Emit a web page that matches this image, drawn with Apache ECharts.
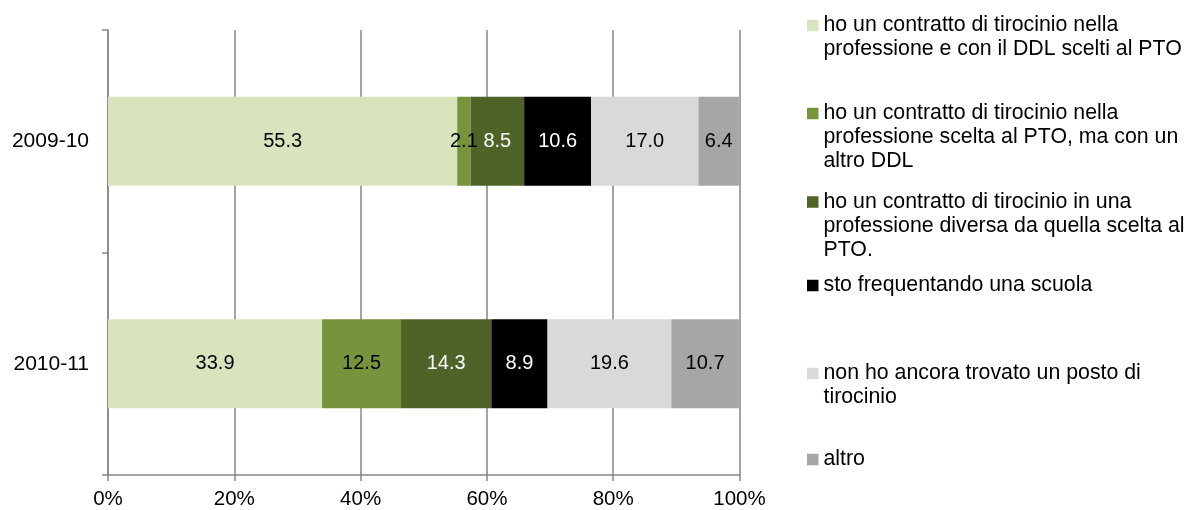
<!DOCTYPE html>
<html>
<head>
<meta charset="utf-8">
<script src="https://cdn.jsdelivr.net/npm/echarts@6/dist/echarts.min.js"></script>
<style>
  html, body { margin: 0; padding: 0; background: #fff; }
  #chart { width: 1186px; height: 510px; }
</style>
</head>
<body>
<div id="chart"></div>
<script>
// Years shown on the category axis (top to bottom)
const categories = ['2009-10', '2010-11'];

// Answer options (legend text, with line breaks as displayed)
const seriesNames = [
  'ho un contratto di tirocinio nella\nprofessione e con il DDL scelti al PTO',
  'ho un contratto di tirocinio nella\nprofessione scelta al PTO, ma con un\naltro DDL',
  'ho un contratto di tirocinio in una\nprofessione diversa da quella scelta al\nPTO.',
  'sto frequentando una scuola',
  'non ho ancora trovato un posto di\ntirocinio',
  'altro'
];

// Percentages per answer, one value per year
const contrattoStessoDDL   = [55.3, 33.9];
const contrattoAltroDDL    = [2.1, 12.5];
const professioneDiversa   = [8.5, 14.3];
const scuola               = [10.6, 8.9];
const nessunPosto          = [17.0, 19.6];
const altro                = [6.4, 10.7];

const seriesValues = [contrattoStessoDDL, contrattoAltroDDL, professioneDiversa, scuola, nessunPosto, altro];

// Axis ticks
const xTicks = [0, 20, 40, 60, 80, 100];

const colors = ['#D7E4BD', '#77933C', '#4F6228', '#000000', '#D9D9D9', '#A6A6A6'];
const labelColors = ['#000', '#000', '#fff', '#fff', '#000', '#000'];

const FONT = '"Liberation Sans", Arial, sans-serif';
const LINE_H = 24;
const MARK = 11.5;
// vertical centre of the first text line of each legend entry
const legendCentres = [25.5, 113.5, 202, 285.5, 373.5, 459.5];

// One legend per entry so the marker sits beside the first text line:
// the icon box spans the whole text block, the square is drawn at its top.
const legends = seriesNames.map((name, i) => {
  const n = name.split('\n').length;
  const h = n * LINE_H;
  const sq = LINE_H / 2 - MARK / 2;
  const icon = 'path://M0,0 M0,' + sq + 'h' + MARK + 'v' + MARK + 'h-' + MARK + 'z M' + MARK + ',' + h;
  return {
    data: [{ name: name, icon: icon }],
    orient: 'vertical',
    left: 807,
    top: legendCentres[i] - LINE_H / 2,
    padding: 0,
    itemWidth: MARK,
    itemHeight: h,
    itemGap: 0,
    selectedMode: false,
    textStyle: {
      fontFamily: FONT,
      fontSize: 21.3,
      color: '#000',
      lineHeight: LINE_H
    }
  };
});

const chart = echarts.init(document.getElementById('chart'), null, { renderer: 'canvas' });

chart.setOption({
  animation: false,
  textStyle: { fontFamily: FONT },
  color: colors,
  legend: legends,
  grid: { left: 108, right: 446.5, top: 30, bottom: 35, containLabel: false },
  xAxis: {
    type: 'value',
    min: xTicks[0],
    max: xTicks[xTicks.length - 1],
    interval: xTicks[1] - xTicks[0],
    axisLine: { show: true, lineStyle: { color: '#868686', width: 1.5 } },
    axisTick: { show: true, length: 6, lineStyle: { color: '#868686', width: 1.5 } },
    splitLine: { show: true, lineStyle: { color: '#868686', width: 1.5 } },
    axisLabel: {
      formatter: '{value}%',
      fontFamily: FONT,
      fontSize: 20.5,
      color: '#000',
      margin: 14
    }
  },
  yAxis: {
    type: 'category',
    data: categories,
    inverse: true,
    axisLine: { show: true, lineStyle: { color: '#868686', width: 1.5 } },
    axisTick: { show: true, length: 6, alignWithLabel: false, lineStyle: { color: '#868686', width: 1.5 } },
    splitLine: { show: false },
    axisLabel: {
      fontFamily: FONT,
      fontSize: 21,
      color: '#000',
      margin: 19
    }
  },
  series: seriesNames.map((name, i) => ({
    name: name,
    type: 'bar',
    stack: 'total',
    barWidth: '40%',
    data: seriesValues[i],
    itemStyle: { color: colors[i] },
    label: {
      show: true,
      position: 'inside',
      fontFamily: FONT,
      fontSize: 20,
      color: labelColors[i],
      formatter: p => p.value.toFixed(1)
    }
  }))
});
</script>
</body>
</html>
